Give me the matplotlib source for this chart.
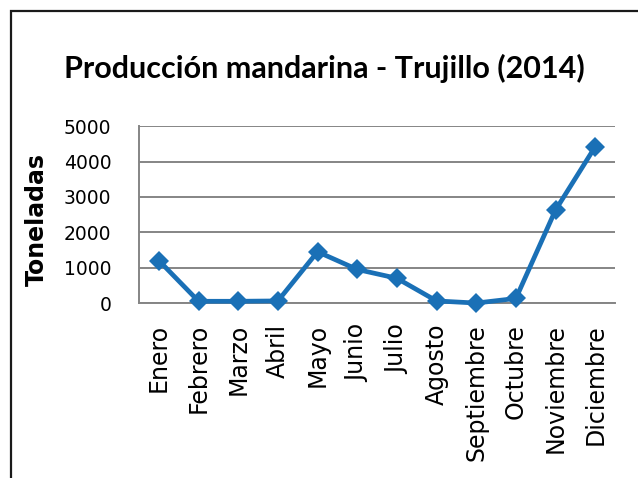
import matplotlib.pyplot as plt
from matplotlib.patches import Rectangle

# Monthly tangerine production (tonnes)
months = ["Enero", "Febrero", "Marzo", "Abril", "Mayo", "Junio", "Julio",
          "Agosto", "Septiembre", "Octubre", "Noviembre", "Diciembre"]
toneladas = [1200, 50, 50, 60, 1450, 950, 700, 60, 0, 130, 2630, 4420]
y_ticks = [0, 1000, 2000, 3000, 4000, 5000]

blue = "#1a70b6"
grid_gray = "#858585"

fig = plt.figure(figsize=(6.38, 4.78), dpi=100)
ax = fig.add_axes([0.218, 0.366, 0.746, 0.370])

# Outer black frame (only left and top edges visible in the reference)
fig.patches.append(Rectangle((10.5 / 638, -0.2), 1.2, 1.2 - 10.5 / 478,
                             transform=fig.transFigure, fill=False,
                             edgecolor="#1a1a1a", linewidth=1.6))

x = list(range(len(months)))
ax.plot(x, toneladas, color=blue, linewidth=3.4, marker="D",
        markersize=10.5, markeredgewidth=0, clip_on=False, zorder=3)

ax.set_xlim(-0.5, len(months) - 0.5)
ax.set_ylim(0, 5000)
ax.set_yticks(y_ticks)
ax.set_yticklabels([str(v) for v in y_ticks], fontsize=13.5)
ax.set_xticks(x)
ax.set_xticklabels(months, rotation=90, fontsize=17)
ax.tick_params(axis="both", length=0)
ax.tick_params(axis="y", pad=20)
ax.tick_params(axis="x", pad=15)

ax.grid(axis="y", color=grid_gray, linewidth=1.4)
ax.set_axisbelow(True)
for side in ["top", "right"]:
    ax.spines[side].set_visible(False)
ax.spines["left"].set_color(grid_gray)
ax.spines["left"].set_linewidth(1.4)
ax.spines["bottom"].set_color(grid_gray)
ax.spines["bottom"].set_linewidth(1.4)

ax.set_ylabel("Toneladas", fontsize=17, fontweight="bold")
ax.yaxis.set_label_coords(-0.19, 0.47)

fig.text(0.508, 1 - 68 / 478, "Producción mandarina - Trujillo (2014)",
         ha="center", va="center", fontsize=22, fontweight="bold",
         family="Lato")

fig.savefig("out.png", dpi=100)
